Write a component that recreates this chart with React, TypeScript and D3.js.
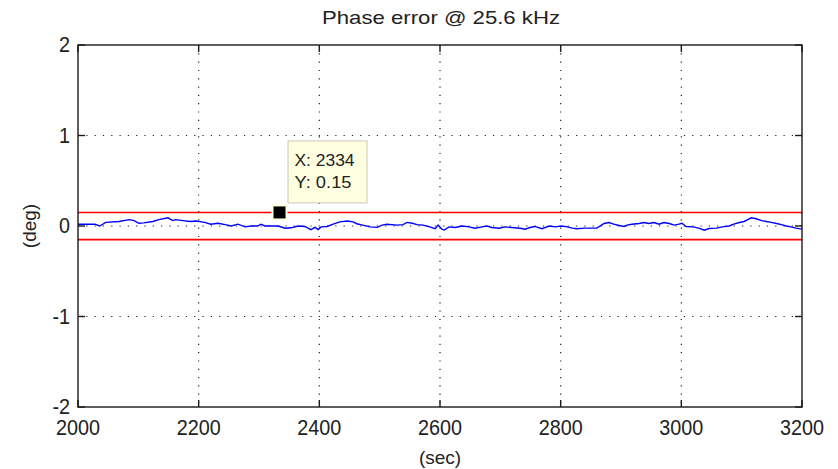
import React from "react";
import * as d3 from "d3";

const xTicks = [2000, 2200, 2400, 2600, 2800, 3000, 3200];
const yTicks = [-2, -1, 0, 1, 2];
const limitValues = [0.15, -0.15];
const tipX = 2334;
const tipY = 0.15;

const timeSec = [
  2000, 2028, 2036, 2046, 2068, 2085, 2093, 2101, 2109, 2124, 2134, 2149, 2157, 2162, 2174, 2186, 2196,
  2210, 2220, 2232, 2244, 2254, 2265, 2277, 2287, 2298, 2303, 2310, 2332, 2343, 2353, 2365, 2376, 2386, 2393, 2398,
  2403, 2413, 2423, 2434, 2446, 2456, 2462, 2472, 2484, 2496, 2504, 2512, 2529, 2539, 2545, 2554, 2562, 2572, 2583, 2592, 2597,
  2603, 2607, 2615, 2625, 2637, 2648, 2658, 2670, 2678, 2686, 2698, 2708, 2719, 2733, 2741, 2749, 2757, 2769, 2781, 2791, 2802,
  2811, 2819, 2827, 2839, 2860, 2872, 2880, 2888, 2897, 2905, 2910, 2918, 2930, 2938, 2946, 2955, 2963, 2971, 2980, 2988, 2996, 3001,
  3008, 3019, 3029, 3038, 3046, 3058, 3068, 3079, 3087, 3096, 3104, 3111, 3116, 3124, 3133, 3141, 3149, 3158, 3166, 3174, 3182, 3190, 3200,
];
const phaseDeg = [
  0.02, 0.02, 0.0, 0.04, 0.05, 0.07, 0.06, 0.03, 0.035, 0.05, 0.07, 0.09, 0.06, 0.07, 0.06, 0.05, 0.055,
  0.04, 0.02, 0.03, 0.015, 0.0, 0.02, -0.01, 0.0, 0.0, 0.02, 0.0, 0.0, -0.025, -0.02, 0.0, -0.005, -0.04, -0.015, -0.04,
  -0.01, -0.005, 0.02, 0.045, 0.055, 0.045, 0.025, 0.01, -0.01, -0.015, 0.01, 0.02, 0.01, 0.015, 0.04, 0.03, 0.015, 0.01, -0.01, -0.03, 0.01,
  -0.035, -0.045, -0.01, -0.017, 0.0, -0.01, -0.025, -0.01, 0.0, -0.017, -0.025, -0.01, -0.017, -0.025, -0.035, -0.017, -0.005, -0.03, 0.0, -0.01, 0.0,
  -0.01, -0.024, -0.03, -0.024, -0.024, 0.028, 0.039, 0.02, 0.005, -0.005, 0.01, 0.02, 0.028, 0.039, 0.028, 0.039, 0.02, 0.039, 0.028, 0.01, 0.02, 0.03,
  -0.005, -0.01, -0.024, -0.046, -0.028, -0.024, -0.01, 0.0, 0.02, 0.039, 0.05, 0.072, 0.09, 0.08, 0.06, 0.05, 0.04, 0.028, 0.015, 0.0, -0.01, -0.024, -0.035,
];

const W = 838;
const H = 469;
const L = 78;
const R = 802;
const T = 45;
const B = 407;
const FONT = "'Liberation Sans', Arial, sans-serif";
const TICK_FS = 22;

function numWidth(s: string) {
  let w = 0;
  for (const c of s) w += c === "-" ? 0.333 : c === "." ? 0.278 : 0.556;
  return w * TICK_FS * 0.9;
}

export default function App() {
  const x = d3.scaleLinear().domain([2000, 3200]).range([L, R]);
  const y = d3.scaleLinear().domain([-2, 2]).range([B, T]);
  const pts = timeSec.map((t, i) => [t, phaseDeg[i]] as [number, number]);
  const line = d3
    .line<[number, number]>()
    .x((d) => x(d[0]))
    .y((d) => y(d[1]));
  const tx = x(tipX);
  const ty = y(tipY);
  const tick = 7;
  return (
    <svg
      width={W}
      height={H}
      style={{ position: "absolute", left: 0, top: 0, background: "#fff" }}
    >
      <rect x={0} y={0} width={W} height={H} fill="#fff" />
      {/* grid */}
      {xTicks.slice(1, -1).map((t) => (
        <line
          key={"gx" + t}
          x1={x(t)}
          x2={x(t)}
          y1={T}
          y2={B}
          stroke="#222"
          strokeWidth={1.2}
          strokeDasharray="1.2,7.1"
        />
      ))}
      {yTicks.slice(1, -1).map((t) => (
        <line
          key={"gy" + t}
          x1={L}
          x2={R}
          y1={y(t)}
          y2={y(t)}
          stroke="#222"
          strokeWidth={1.2}
          strokeDasharray="1.2,7.1"
        />
      ))}
      {/* limits */}
      {limitValues.map((v) => (
        <line key={"lim" + v} x1={L} x2={R} y1={y(v)} y2={y(v)} stroke="#ff0000" strokeWidth={1.6} />
      ))}
      {/* data */}
      <path d={line(pts) || ""} fill="none" stroke="#0000ff" strokeWidth={1.4} />
      {/* axes box */}
      <rect x={L} y={T} width={R - L} height={B - T} fill="none" stroke="#1a1a1a" strokeWidth={1.4} />
      {xTicks.map((t) => (
        <g key={"tx" + t}>
          <line x1={x(t)} x2={x(t)} y1={B} y2={B - tick} stroke="#1a1a1a" strokeWidth={1.4} />
          <line x1={x(t)} x2={x(t)} y1={T} y2={T + tick} stroke="#1a1a1a" strokeWidth={1.4} />
          <text
            x={x(t)}
            y={B + 28}
            textAnchor="middle"
            fontFamily={FONT}
            fontSize={TICK_FS}
            textLength={numWidth(String(t))}
            lengthAdjust="spacingAndGlyphs"
            fill="#222"
          >
            {t}
          </text>
        </g>
      ))}
      {yTicks.map((t) => (
        <g key={"ty" + t}>
          <line x1={L} x2={L + tick} y1={y(t)} y2={y(t)} stroke="#1a1a1a" strokeWidth={1.4} />
          <line x1={R} x2={R - tick} y1={y(t)} y2={y(t)} stroke="#1a1a1a" strokeWidth={1.4} />
          <text
            x={L - 8}
            y={y(t) + 7}
            textAnchor="end"
            fontFamily={FONT}
            fontSize={TICK_FS}
            textLength={numWidth(String(t))}
            lengthAdjust="spacingAndGlyphs"
            fill="#222"
          >
            {t}
          </text>
        </g>
      ))}
      {/* labels */}
      <text
        x={441}
        y={24}
        textAnchor="middle"
        fontFamily={FONT}
        fontSize={19}
        textLength={238}
        lengthAdjust="spacingAndGlyphs"
        fill="#222"
      >
        Phase error @ 25.6 kHz
      </text>
      <text x={440} y={464} textAnchor="middle" fontFamily={FONT} fontSize={19} fill="#222">
        (sec)
      </text>
      <text
        transform={`translate(36,${(T + B) / 2}) rotate(-90)`}
        textAnchor="middle"
        fontFamily={FONT}
        fontSize={19}
        fill="#222"
      >
        (deg)
      </text>
      {/* datatip */}
      <rect x={tx - 8} y={ty - 8} width={16} height={16} fill="#ffffe1" />
      <rect x={tx - 6} y={ty - 6} width={12} height={12} fill="#000" />
      <rect x={tx + 8.5} y={ty - 71.5} width={79} height={62} fill="#ffffe1" stroke="#c8c8b8" strokeWidth={1} />
      <text
        x={tx + 15}
        y={ty - 46}
        fontFamily={FONT}
        fontSize={16}
        textLength={60}
        lengthAdjust="spacingAndGlyphs"
        fill="#222"
      >
        X: {tipX}
      </text>
      <text
        x={tx + 15}
        y={ty - 24}
        fontFamily={FONT}
        fontSize={16}
        textLength={57}
        lengthAdjust="spacingAndGlyphs"
        fill="#222"
      >
        Y: {tipY}
      </text>
    </svg>
  );
}
